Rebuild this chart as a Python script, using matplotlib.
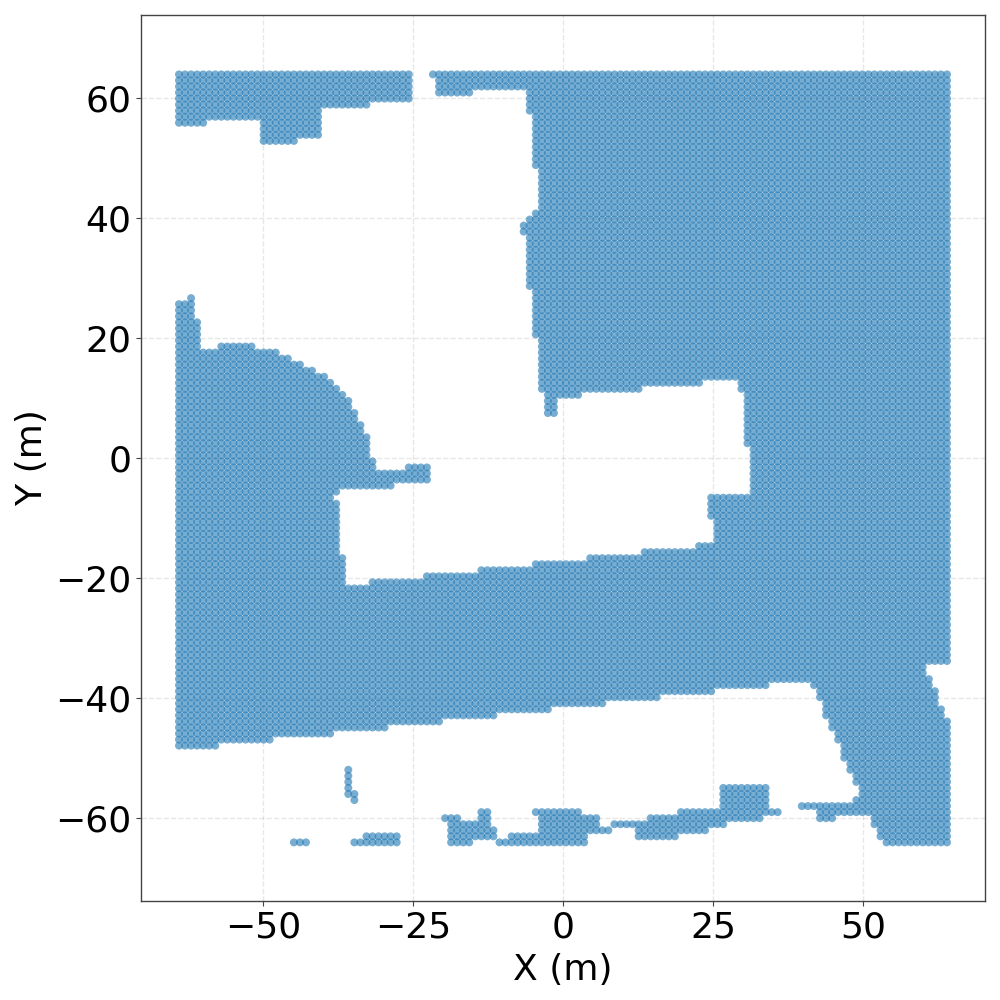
import numpy as np
import matplotlib
matplotlib.use("Agg")
import matplotlib.pyplot as plt

# Occupied cells of the 128 x 128 grid.
# Each entry: first row, last row (0 = top), occupied column spans (0 = left).
grid_limit = 64
grid_cells = 128
occupied_rows = [
    (0, 0, [(0, 38), (42, 127)]),
    (1, 2, [(0, 38), (43, 127)]),
    (3, 3, [(0, 38), (43, 48), (58, 127)]),
    (4, 4, [(0, 38), (58, 127)]),
    (5, 5, [(0, 31), (58, 127)]),
    (6, 6, [(0, 23), (58, 127)]),
    (7, 7, [(0, 23), (59, 127)]),
    (8, 8, [(0, 4), (14, 23), (59, 127)]),
    (9, 10, [(14, 23), (59, 127)]),
    (11, 11, [(14, 19), (59, 127)]),
    (12, 15, [(59, 127)]),
    (16, 22, [(60, 127)]),
    (23, 23, [(59, 127)]),
    (24, 24, [(58, 127)]),
    (25, 26, [(57, 127)]),
    (27, 35, [(58, 127)]),
    (36, 36, [(59, 127)]),
    (37, 37, [(2, 2), (59, 127)]),
    (38, 40, [(0, 2), (59, 127)]),
    (41, 43, [(0, 3), (59, 127)]),
    (44, 44, [(0, 3), (60, 127)]),
    (45, 45, [(0, 3), (7, 12), (60, 127)]),
    (46, 46, [(0, 16), (60, 127)]),
    (47, 47, [(0, 18), (60, 127)]),
    (48, 48, [(0, 20), (60, 127)]),
    (49, 49, [(0, 22), (60, 127)]),
    (50, 50, [(0, 24), (60, 127)]),
    (51, 51, [(0, 25), (60, 86), (93, 127)]),
    (52, 52, [(0, 26), (60, 76), (93, 127)]),
    (53, 53, [(0, 27), (61, 66), (94, 127)]),
    (54, 55, [(0, 28), (61, 62), (94, 127)]),
    (56, 56, [(0, 29), (61, 62), (94, 127)]),
    (57, 57, [(0, 29), (94, 127)]),
    (58, 59, [(0, 30), (94, 127)]),
    (60, 61, [(0, 31), (94, 127)]),
    (62, 63, [(0, 31), (95, 127)]),
    (64, 64, [(0, 32), (95, 127)]),
    (65, 65, [(0, 32), (38, 41), (95, 127)]),
    (66, 67, [(0, 41), (95, 127)]),
    (68, 68, [(0, 35), (95, 127)]),
    (69, 69, [(0, 26), (95, 127)]),
    (70, 70, [(0, 25), (88, 127)]),
    (71, 73, [(0, 26), (88, 127)]),
    (74, 77, [(0, 26), (89, 127)]),
    (78, 78, [(0, 26), (86, 127)]),
    (79, 79, [(0, 26), (77, 127)]),
    (80, 80, [(0, 27), (68, 127)]),
    (81, 81, [(0, 27), (59, 127)]),
    (82, 82, [(0, 27), (50, 127)]),
    (83, 83, [(0, 27), (41, 127)]),
    (84, 84, [(0, 27), (32, 127)]),
    (85, 97, [(0, 127)]),
    (98, 99, [(0, 123)]),
    (100, 100, [(0, 124)]),
    (101, 101, [(0, 97), (105, 124)]),
    (102, 102, [(0, 88), (106, 125)]),
    (103, 103, [(0, 79), (106, 125)]),
    (104, 104, [(0, 70), (107, 125)]),
    (105, 105, [(0, 61), (107, 126)]),
    (106, 106, [(0, 52), (107, 126)]),
    (107, 107, [(0, 43), (108, 127)]),
    (108, 108, [(0, 34), (108, 127)]),
    (109, 109, [(0, 25), (109, 127)]),
    (110, 110, [(0, 15), (109, 127)]),
    (111, 111, [(0, 6), (110, 127)]),
    (112, 113, [(110, 127)]),
    (114, 114, [(111, 127)]),
    (115, 115, [(28, 28), (111, 127)]),
    (116, 116, [(28, 28), (112, 127)]),
    (117, 117, [(28, 28), (112, 127)]),
    (118, 118, [(28, 28), (90, 97), (113, 127)]),
    (119, 119, [(28, 29), (90, 97), (113, 127)]),
    (120, 120, [(29, 29), (90, 97), (112, 127)]),
    (121, 121, [(90, 97), (103, 127)]),
    (122, 122, [(50, 51), (59, 66), (83, 99), (106, 127)]),
    (123, 123, [(44, 46), (50, 51), (60, 69), (78, 96), (106, 108), (115, 127)]),
    (124, 124, [(45, 51), (60, 69), (72, 90), (115, 127)]),
    (125, 125, [(45, 52), (60, 71), (76, 87), (116, 127)]),
    (126, 126, [(31, 36), (45, 52), (55, 67), (76, 82), (116, 127)]),
    (127, 127, [(19, 21), (29, 36), (45, 48), (53, 67), (117, 127)]),
]
x_ticks = [-50, -25, 0, 25, 50]
y_ticks = [-60, -40, -20, 0, 20, 40, 60]

axis_values = np.linspace(-grid_limit, grid_limit, grid_cells)
xs, ys = [], []
for first, last, spans in occupied_rows:
    for row in range(first, last + 1):
        for a, b in spans:
            for col in range(a, b + 1):
                xs.append(axis_values[col])
                ys.append(axis_values[127 - row])

fig = plt.figure(figsize=(10, 10), dpi=100)
ax = fig.add_axes([0.141, 0.099, 0.844, 0.886])
# One colour per point: drawn as a collection, so points are not rounded to whole pixels.
point_colors = ["#1f77b4"] * len(xs)
ax.scatter(xs, ys, s=33, c=point_colors, alpha=0.6, linewidths=0, zorder=2)
ax.set_xlim(-70.33, 70.33)
ax.set_ylim(-73.77, 73.9)
ax.set_xticks(x_ticks)
ax.set_yticks(y_ticks)
ax.grid(True, linestyle="--", color="#b0b0b0", alpha=0.3, linewidth=1.0, zorder=1)
ax.set_axisbelow(True)
ax.tick_params(labelsize=26, color="#444444", length=3.5, width=0.8)
for s in ax.spines.values():
    s.set_color("#444444")
    s.set_linewidth(1.0)
ax.set_xlabel("X (m)", fontsize=26, labelpad=6)
ax.set_ylabel("Y (m)", fontsize=26, labelpad=4)
fig.savefig("out.png", dpi=100)
